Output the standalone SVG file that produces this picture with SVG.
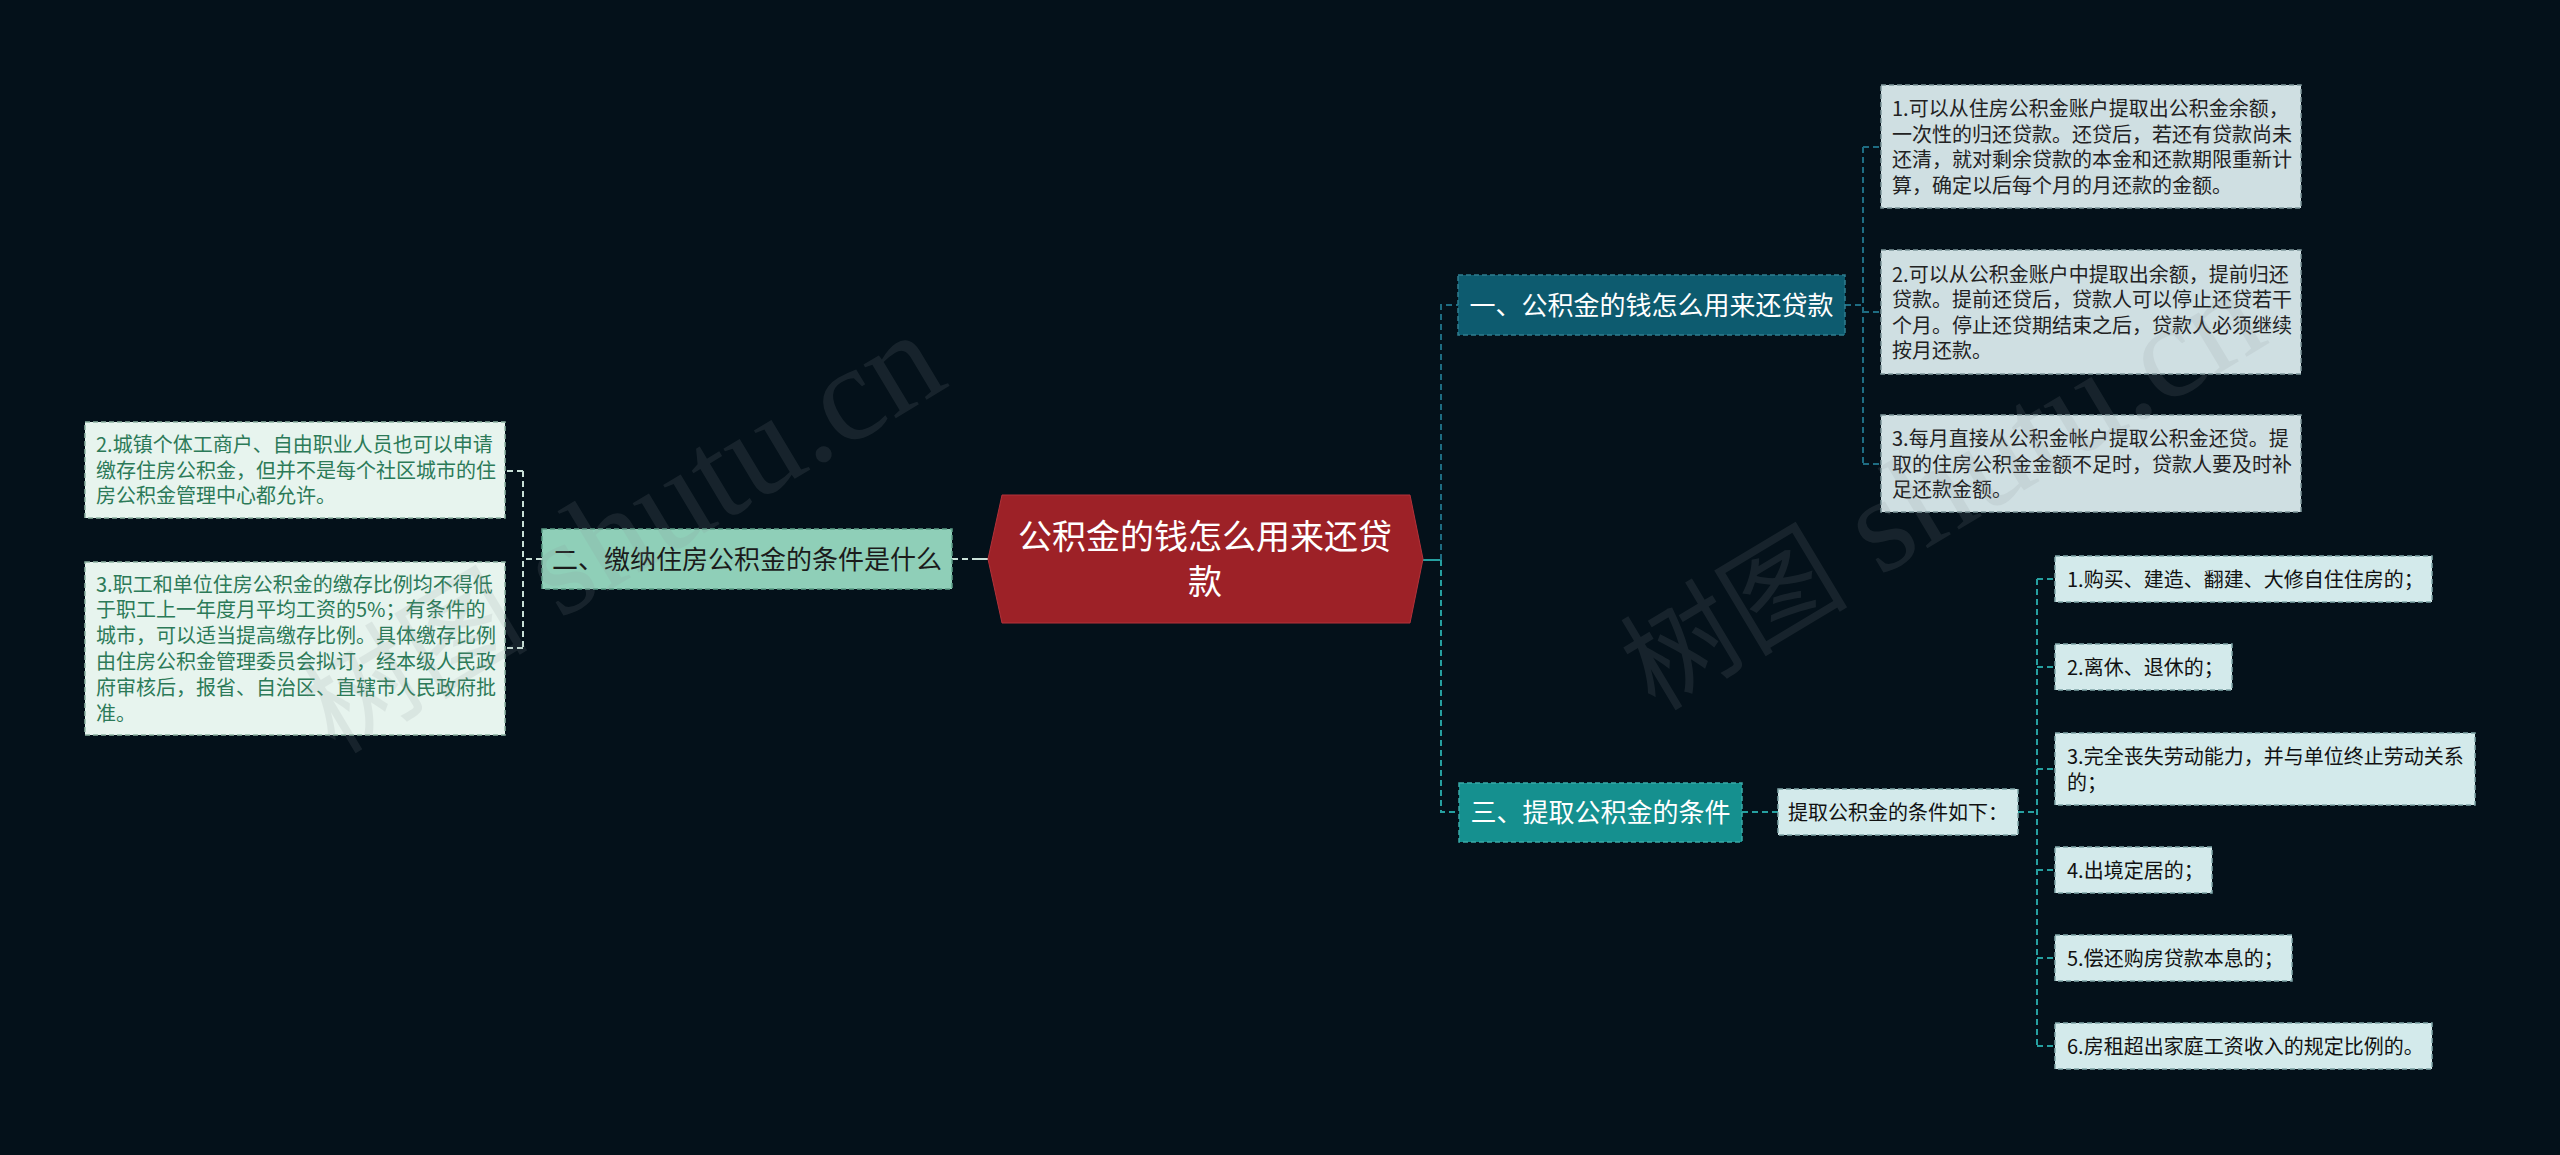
<svg xmlns="http://www.w3.org/2000/svg" width="2560" height="1155" viewBox="0 0 2560 1155">
<style>
text{font-family:"Noto Sans CJK SC","Noto Sans",sans-serif}
.bx{stroke-width:1.5;stroke-dasharray:5 3}
.r1{fill:#cfdfe2;stroke:#7d969b}
.l1{fill:#e7f4ee;stroke:#8db3a3}
.t3{fill:#d3eaeb;stroke:#7fa5a8}
.tr{font-size:20px;fill:#222}
.tl{font-size:20px;fill:#2c7a58}
.t3t{font-size:20px;fill:#111}
.sub{font-size:26px;text-anchor:middle}
.c{fill:none;stroke-width:2;stroke-dasharray:6 4}
.cb{stroke:#1e6c82}
.ct{stroke:#26a0a0}
.cg{stroke:#c9e0d8}
.wm{font-family:"Liberation Serif","Noto Sans CJK SC",serif;font-size:136px;fill:#8c9498;opacity:0.14}
.wc{font-size:114px}
</style>
<rect x="0" y="0" width="2560" height="1155" fill="#04111a"/>
<g id="connectors">
<line x1="978" y1="559" x2="988" y2="559" stroke="#c9e0d8" stroke-width="2"/>
<path class="c cg" d="M978,559 H952"/>
<path class="c cg" d="M542,559 H523 M523,471 V648 M523,471 H505 M523,648 H505"/>
<line x1="1423" y1="560" x2="1441" y2="560" stroke="#26a0a0" stroke-width="2"/>
<path class="c cb" d="M1441,560 V305 H1458"/>
<path class="c ct" d="M1441,560 V812 H1459"/>
<path class="c cb" d="M1845,305 H1863 M1863,147 V464 M1863,147 H1881 M1863,312 H1881 M1863,464 H1881"/>
<path class="c ct" d="M1742,812 H1778 M2018,812 H2037 M2037,579 V1046 M2037,579 H2055 M2037,667 H2055 M2037,769 H2055 M2037,870 H2055 M2037,958 H2055 M2037,1046 H2055"/>
</g>
<g id="root">
<polygon points="988,559 1002,495 1410,495 1423,559 1410,623 1002,623" fill="#9d2127" stroke="#b3323a" stroke-width="1"/>
<text x="1205" y="549" font-size="34" fill="#ffffff" text-anchor="middle">公积金的钱怎么用来还贷</text>
<text x="1205" y="594" font-size="34" fill="#ffffff" text-anchor="middle">款</text>
</g>
<g id="n1">
<rect class="bx" x="1458" y="275" width="387" height="60" fill="#0d5b6f" stroke="#2f7d90"/>
<text class="sub" x="1651.5" y="315" fill="#ffffff">一、公积金的钱怎么用来还贷款</text>
</g>
<g id="n2">
<rect class="bx" x="542" y="529" width="410" height="60" fill="#8fcfb8" stroke="#5d9e88"/>
<text class="sub" x="747" y="569" fill="#1b1b1b">二、缴纳住房公积金的条件是什么</text>
</g>
<g id="n3">
<rect class="bx" x="1459" y="783" width="283" height="59" fill="#15908f" stroke="#3aa9a8"/>
<text class="sub" x="1600.5" y="822" fill="#ffffff">三、提取公积金的条件</text>
</g>
<g id="r1">
<rect class="bx r1" x="1881" y="85" width="420" height="123"/>
<text class="tr" x="1892" y="116">1.可以从住房公积金账户提取出公积金余额，</text>
<text class="tr" x="1892" y="141.5">一次性的归还贷款。还贷后，若还有贷款尚未</text>
<text class="tr" x="1892" y="167">还清，就对剩余贷款的本金和还款期限重新计</text>
<text class="tr" x="1892" y="192.5">算，确定以后每个月的月还款的金额。</text>
</g>
<g id="r2">
<rect class="bx r1" x="1881" y="250" width="420" height="124"/>
<text class="tr" x="1892" y="281.5">2.可以从公积金账户中提取出余额，提前归还</text>
<text class="tr" x="1892" y="307">贷款。提前还贷后，贷款人可以停止还贷若干</text>
<text class="tr" x="1892" y="332.5">个月。停止还贷期结束之后，贷款人必须继续</text>
<text class="tr" x="1892" y="358">按月还款。</text>
</g>
<g id="r3">
<rect class="bx r1" x="1881" y="415" width="420" height="97"/>
<text class="tr" x="1892" y="446">3.每月直接从公积金帐户提取公积金还贷。提</text>
<text class="tr" x="1892" y="471.5">取的住房公积金金额不足时，贷款人要及时补</text>
<text class="tr" x="1892" y="497">足还款金额。</text>
</g>
<g id="l1">
<rect class="bx l1" x="85" y="422" width="420" height="96"/>
<text class="tl" x="96" y="452">2.城镇个体工商户、自由职业人员也可以申请</text>
<text class="tl" x="96" y="477.5">缴存住房公积金，但并不是每个社区城市的住</text>
<text class="tl" x="96" y="503">房公积金管理中心都允许。</text>
</g>
<g id="l2">
<rect class="bx l1" x="85" y="562" width="420" height="173"/>
<text class="tl" x="96" y="591.6">3.职工和单位住房公积金的缴存比例均不得低</text>
<text class="tl" x="96" y="617.4">于职工上一年度月平均工资的5%；有条件的</text>
<text class="tl" x="96" y="643.2">城市，可以适当提高缴存比例。具体缴存比例</text>
<text class="tl" x="96" y="669">由住房公积金管理委员会拟订，经本级人民政</text>
<text class="tl" x="96" y="694.8">府审核后，报省、自治区、直辖市人民政府批</text>
<text class="tl" x="96" y="720.6">准。</text>
</g>
<g id="c0">
<rect class="bx t3" x="1778" y="789" width="240" height="46"/>
<text class="t3t" x="1788" y="819.5">提取公积金的条件如下：</text>
</g>
<g id="c1">
<rect class="bx t3" x="2055" y="556" width="377" height="46"/>
<text class="t3t" x="2067" y="586.5">1.购买、建造、翻建、大修自住住房的；</text>
</g>
<g id="c2">
<rect class="bx t3" x="2055" y="644" width="177" height="46"/>
<text class="t3t" x="2067" y="674.5">2.离休、退休的；</text>
</g>
<g id="c3">
<rect class="bx t3" x="2055" y="733" width="420" height="72"/>
<text class="t3t" x="2067" y="764">3.完全丧失劳动能力，并与单位终止劳动关系</text>
<text class="t3t" x="2067" y="789.5">的；</text>
</g>
<g id="c4">
<rect class="bx t3" x="2055" y="847" width="157" height="46"/>
<text class="t3t" x="2067" y="877.5">4.出境定居的；</text>
</g>
<g id="c5">
<rect class="bx t3" x="2055" y="935" width="237" height="46"/>
<text class="t3t" x="2067" y="965.5">5.偿还购房贷款本息的；</text>
</g>
<g id="c6">
<rect class="bx t3" x="2055" y="1023" width="377" height="46"/>
<text class="t3t" x="2067" y="1053.5">6.房租超出家庭工资收入的规定比例的。</text>
</g>
<g id="watermark">
<text class="wm" x="1655" y="712" transform="rotate(-31 1655 712)"><tspan class="wc">树图</tspan> shutu.cn</text>
<text class="wm" x="335" y="755" transform="rotate(-31 335 755)"><tspan class="wc">树图</tspan> shutu.cn</text>
</g>
</svg>
